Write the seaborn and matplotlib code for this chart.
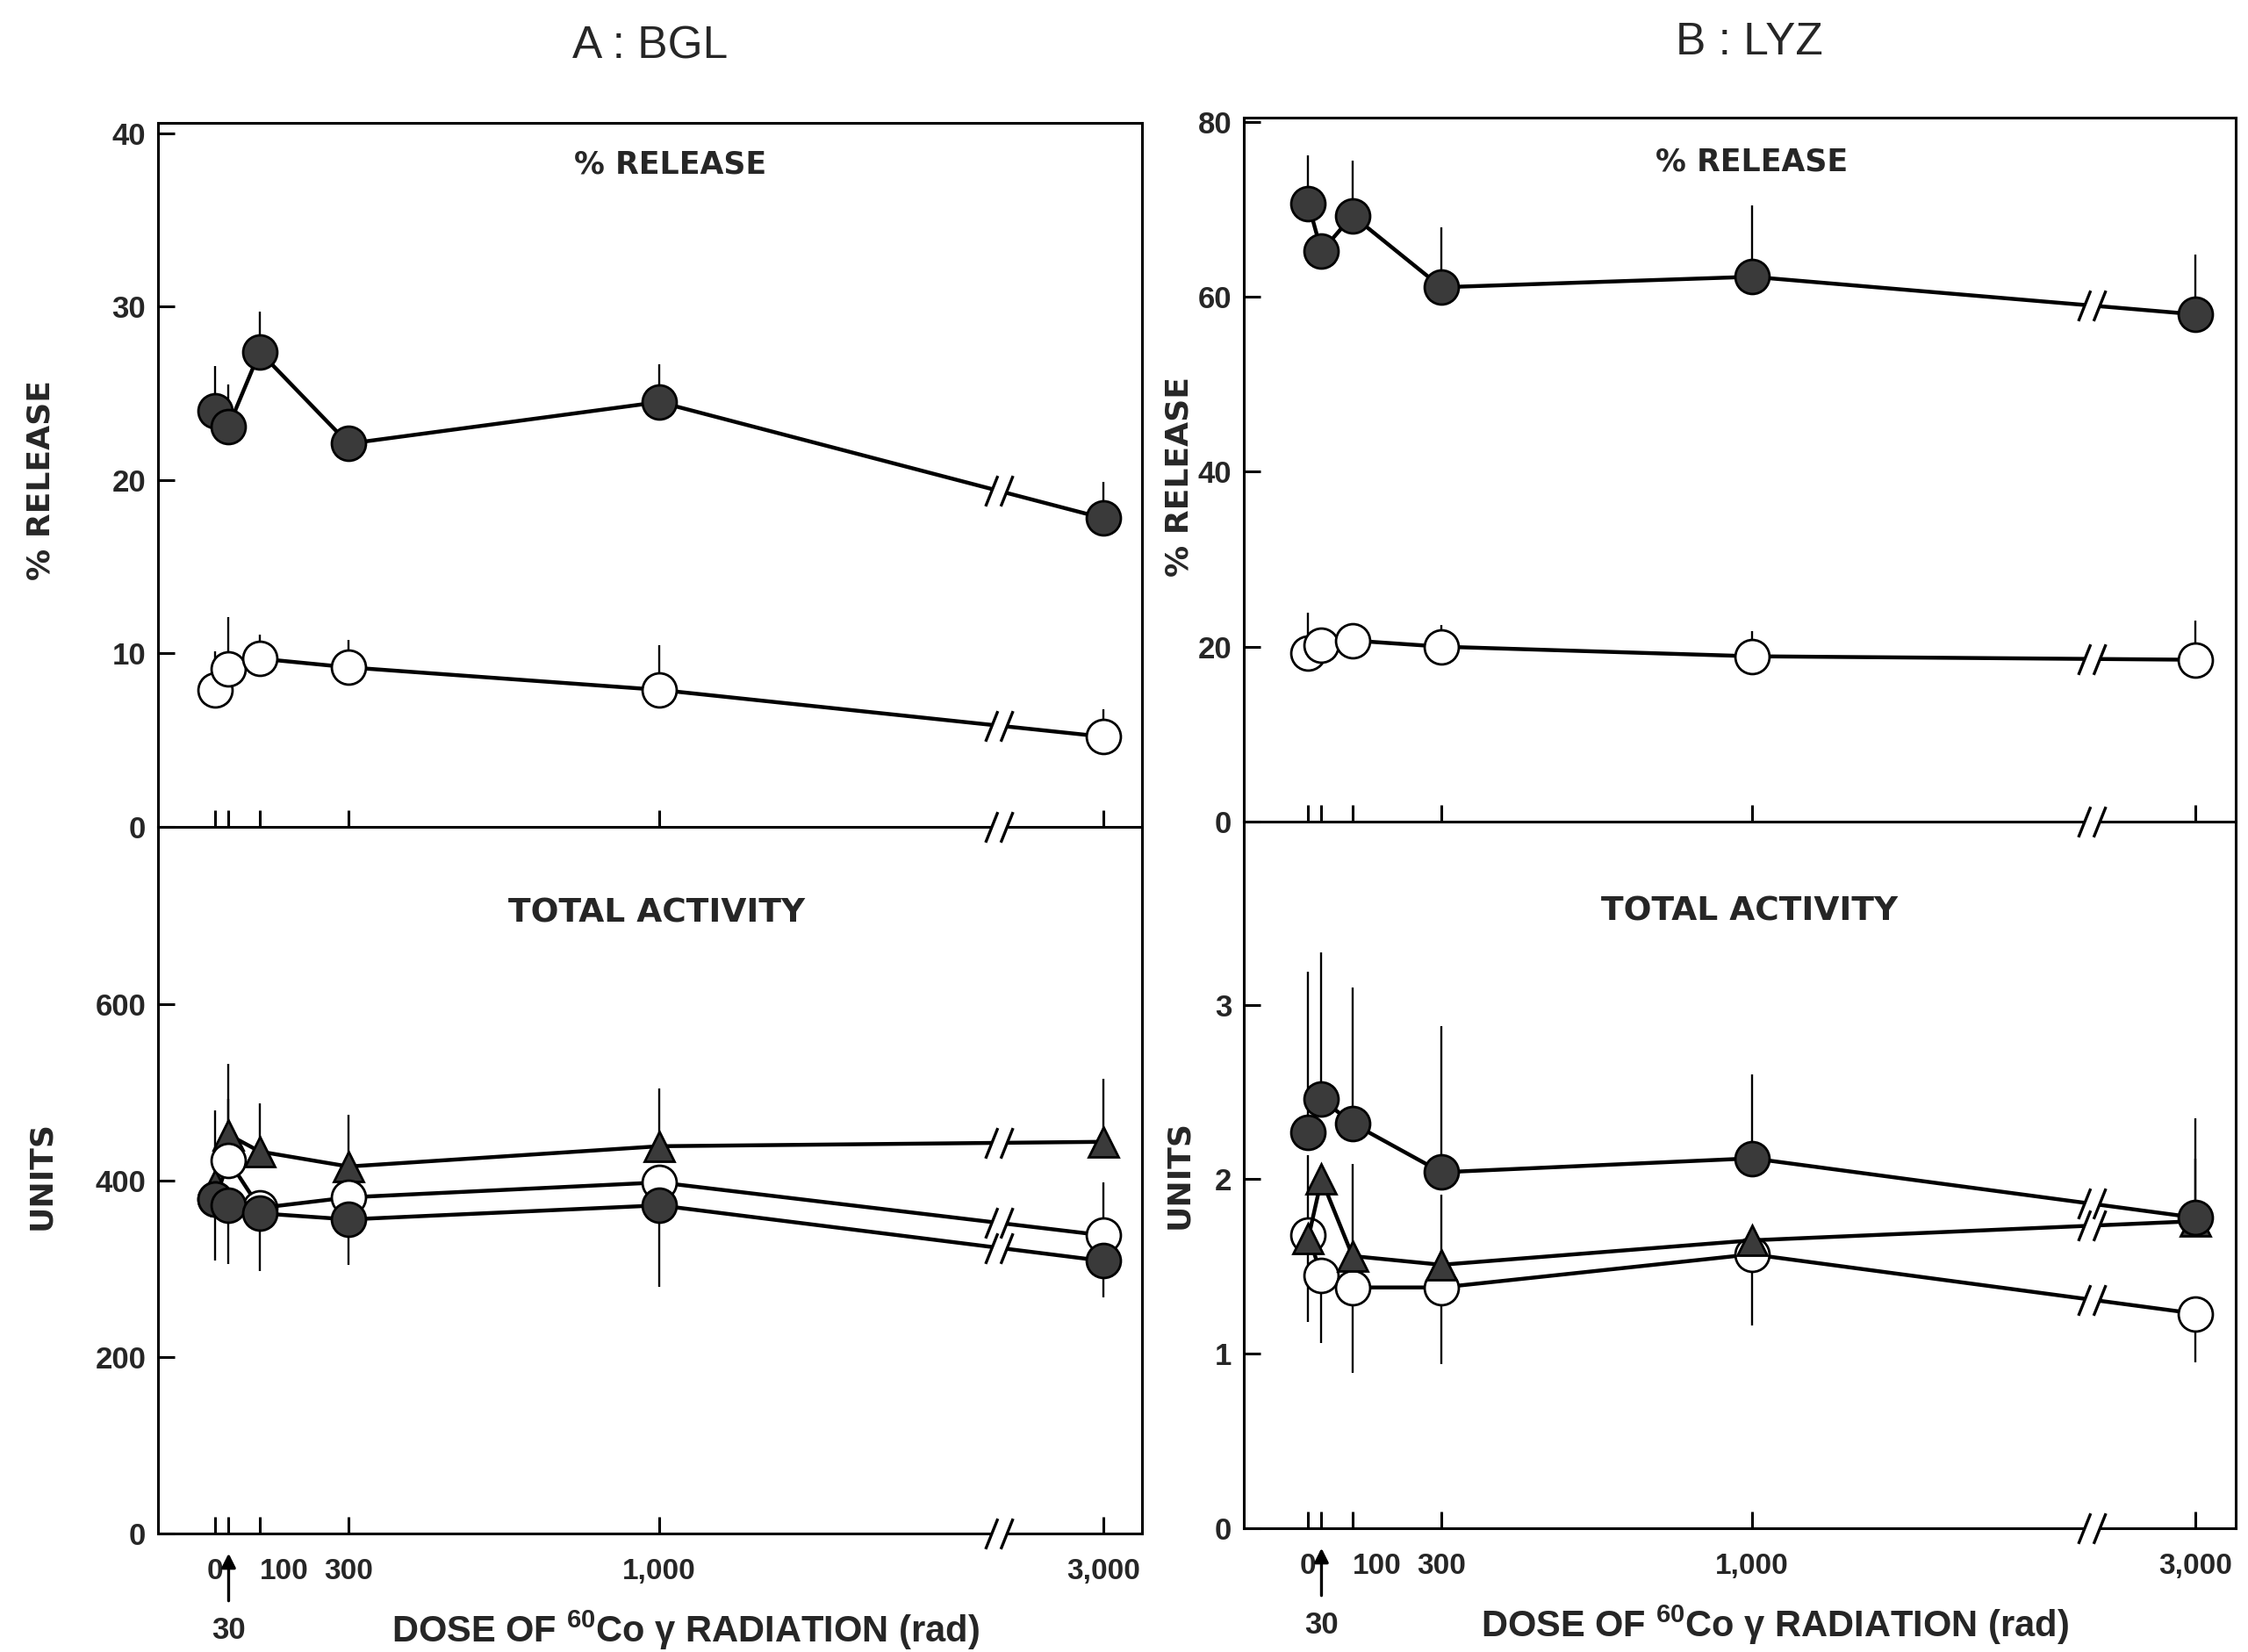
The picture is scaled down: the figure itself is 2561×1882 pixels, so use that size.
import numpy as np
import matplotlib
matplotlib.use("Agg")
import matplotlib.pyplot as plt
import seaborn as sns
from matplotlib.path import Path

# ---------------- data ----------------
doses = [0, 30, 100, 300, 1000, 3000]
dose_labels = ["0", "", "100", "300", "1,000", "3,000"]
arrow_dose = 30

# A : BGL  -- % release (errors drawn upward)
bgl_rel_filled = [24.0, 23.1, 27.4, 22.1, 24.5, 17.8]
bgl_rel_filled_up = [2.6, 2.4, 2.3, 1.0, 2.2, 2.1]
bgl_rel_open = [7.9, 9.1, 9.7, 9.2, 7.9, 5.2]
bgl_rel_open_up = [2.2, 3.0, 1.4, 1.6, 2.6, 1.6]

# A : BGL  -- total activity (units)
bgl_tot_tri = [395, 452, 433, 416, 439, 444]
bgl_tot_tri_up = [85, 80, 55, 59, 65, 71]
bgl_tot_open = [379, 423, 369, 381, 398, 338]
bgl_tot_open_up = [54, 70, 0, 0, 0, 60]
bgl_tot_filled = [379, 372, 363, 356, 372, 309]
bgl_tot_filled_dn = [70, 67, 65, 52, 92, 41]

# B : LYZ  -- % release
lyz_rel_filled = [70.7, 65.2, 69.3, 61.1, 62.3, 58.0]
lyz_rel_filled_up = [5.5, 0.0, 6.3, 6.9, 8.2, 6.8]
lyz_rel_open = [19.3, 20.2, 20.7, 20.0, 18.9, 18.5]
lyz_rel_open_up = [4.6, 0.0, 0.0, 2.5, 2.9, 4.5]

# B : LYZ  -- total activity (units)
lyz_tot_filled = [2.27, 2.46, 2.32, 2.04, 2.12, 1.78]
lyz_tot_filled_up = [0.92, 0.84, 0.78, 0.84, 0.48, 0.57]
lyz_tot_tri = [1.66, 2.00, 1.56, 1.51, 1.65, 1.76]
lyz_tot_tri_up = [0.48, 0.0, 0.53, 0.40, 0.0, 0.36]
lyz_tot_open = [1.68, 1.45, 1.38, 1.38, 1.57, 1.23]
lyz_tot_open_dn = [0.50, 0.39, 0.49, 0.44, 0.41, 0.28]

release_ticks_a = [0, 10, 20, 30, 40]
units_ticks_a = [0, 200, 400, 600]
release_ticks_b = [0, 20, 40, 60, 80]
units_ticks_b = [0, 1, 2, 3]

xlabel_text = r"DOSE OF $^{\mathbf{60}}$Co γ RADIATION (rad)"

# ---------------- style ----------------
sns.set_theme(style="white")
plt.rcParams["font.family"] = ["Liberation Sans", "DejaVu Sans"]
plt.rcParams["mathtext.fontset"] = "custom"
plt.rcParams["mathtext.rm"] = "Liberation Sans"
plt.rcParams["mathtext.bf"] = "Liberation Sans:bold"
plt.rcParams["axes.unicode_minus"] = False

FILL = "#3a3a3a"
LW = 3.2
MS_C = 28
MS_T = 25


def fwd(x):
    x = np.asarray(x, dtype=float)
    return np.where(x <= 1500, x, 1500 + (x - 1500) / 3.0)


def inv(t):
    t = np.asarray(t, dtype=float)
    return np.where(t <= 1500, t, 1500 + (t - 1500) * 3.0)


BREAK_T = 1765.0
M, L, C = Path.MOVETO, Path.LINETO, Path.CLOSEPOLY
slash_path = Path([(-0.9, -1), (-0.1, 1), (0.1, -1), (0.9, 1)], [M, L, M, L])
gap_path = Path([(-1, -1), (1, 1), (-0.62, -0.3), (0.38, -0.3), (0.62, 0.3),
                 (-0.38, 0.3), (-0.62, -0.3)], [M, M, M, L, L, L, C])


def break_mark(ax, x, y, transform=None, clip=True):
    kw = dict(ls="none", clip_on=clip)
    if transform is not None:
        kw["transform"] = transform
    ax.plot([x], [y], marker=gap_path, ms=25, mfc="white", mec="none", zorder=5, **kw)
    ax.plot([x], [y], marker=slash_path, ms=25, mfc="none", mec="black", mew=2.4,
            zorder=5.1, **kw)


def draw_series(ax, y, lo, hi, marker, face, ms):
    ax.errorbar(doses, y, yerr=[lo, hi], fmt="none", ecolor="black",
                elinewidth=1.7, capsize=0, zorder=1.5)
    sns.lineplot(x=doses, y=y, ax=ax, sort=False, color="black", linewidth=LW,
                 marker=marker, markersize=ms, markerfacecolor=face,
                 markeredgecolor="black", markeredgewidth=2.0, errorbar=None,
                 zorder=2)
    yb = float(np.interp(BREAK_T, fwd(doses), y))
    break_mark(ax, float(inv(BREAK_T)), yb)


def style_axis(ax, xl, yl, yticks, lower):
    ax.set_xscale("function", functions=(fwd, inv))
    ax.set_xlim(float(inv(xl[0])), float(inv(xl[1])))
    ax.set_ylim(*yl)
    ax.set_xticks(doses)
    ax.set_yticks(yticks)
    ax.set_yticklabels([str(t) for t in yticks], fontweight="bold")
    ax.patch.set_visible(False)
    for s in ax.spines.values():
        s.set_color("black")
        s.set_linewidth(2.2)
    if lower:
        ax.spines["top"].set_visible(False)
        labs = ax.set_xticklabels(dose_labels, fontweight="bold")
        labs[2].set_horizontalalignment("left")
    else:
        ax.set_xticklabels([""] * len(doses))
    ax.tick_params(axis="both", which="major", direction="in", length=14, width=2.2,
                   color="black", bottom=True, left=True, top=False, right=False)
    ax.tick_params(axis="x", labelsize=24, pad=20, labelbottom=lower)
    ax.tick_params(axis="y", labelsize=25, pad=10)
    ax.set_xlabel("")
    ax.set_ylabel("")
    break_mark(ax, float(inv(BREAK_T)), 0, transform=ax.get_xaxis_transform(), clip=False)


fig = plt.figure(figsize=(25.61, 18.82), dpi=100)
fig.patch.set_facecolor("white")

axA1 = fig.add_axes([0.0703, 0.4995, 0.4377, 0.4261])
axA2 = fig.add_axes([0.0703, 0.0717, 0.4377, 0.4278])
axB1 = fig.add_axes([0.5533, 0.5027, 0.4412, 0.4261])
axB2 = fig.add_axes([0.5533, 0.0749, 0.4412, 0.4278])

zeros = [0] * len(doses)

# A upper
draw_series(axA1, bgl_rel_open, zeros, bgl_rel_open_up, "o", "white", MS_C)
draw_series(axA1, bgl_rel_filled, zeros, bgl_rel_filled_up, "o", FILL, MS_C)
# A lower
draw_series(axA2, bgl_tot_tri, zeros, bgl_tot_tri_up, "^", FILL, MS_T)
draw_series(axA2, bgl_tot_open, zeros, bgl_tot_open_up, "o", "white", MS_C)
draw_series(axA2, bgl_tot_filled, bgl_tot_filled_dn, zeros, "o", FILL, MS_C)
# B upper
draw_series(axB1, lyz_rel_open, zeros, lyz_rel_open_up, "o", "white", MS_C)
draw_series(axB1, lyz_rel_filled, zeros, lyz_rel_filled_up, "o", FILL, MS_C)
# B lower
draw_series(axB2, lyz_tot_open, lyz_tot_open_dn, zeros, "o", "white", MS_C)
draw_series(axB2, lyz_tot_tri, zeros, lyz_tot_tri_up, "^", FILL, MS_T)
draw_series(axB2, lyz_tot_filled, zeros, lyz_tot_filled_up, "o", FILL, MS_C)

style_axis(axA1, (-129, 2087), (0, 40.6), release_ticks_a, False)
style_axis(axA2, (-129, 2087), (0, 801), units_ticks_a, True)
style_axis(axB1, (-145, 2090), (0, 80.5), release_ticks_b, False)
style_axis(axB2, (-145, 2090), (0, 4.05), units_ticks_b, True)

cap_kw = dict(ha="center", va="center", fontweight="bold", family=["DejaVu Sans"])
axA1.text(0.521, 0.941, "% RELEASE", transform=axA1.transAxes, fontsize=25, **cap_kw)
axB1.text(0.512, 0.937, "% RELEASE", transform=axB1.transAxes, fontsize=25, **cap_kw)
axA2.text(0.507, 0.878, "TOTAL ACTIVITY", transform=axA2.transAxes, fontsize=27, **cap_kw)
axB2.text(0.51, 0.872, "TOTAL ACTIVITY", transform=axB2.transAxes, fontsize=27, **cap_kw)

# y labels
for ax, lab, xc, yc in [(axA1, "% RELEASE", -0.119, 0.493), (axA2, "UNITS", -0.119, 0.507),
                        (axB1, "% RELEASE", -0.065, 0.49), (axB2, "UNITS", -0.065, 0.50)]:
    ax.set_ylabel(lab, fontsize=26, va="center", fontweight="bold", family=["DejaVu Sans"])
    ax.yaxis.set_label_coords(xc, yc)

# x labels and the "30" arrow
for ax, xc in [(axA2, 0.536), (axB2, 0.535)]:
    ax.set_xlabel(xlabel_text, fontsize=30, va="center", fontweight="bold")
    ax.xaxis.set_label_coords(xc, -0.137)
    ax.annotate("30", xy=(arrow_dose, -0.028), xycoords=("data", "axes fraction"),
                xytext=(arrow_dose, -0.137), textcoords=("data", "axes fraction"),
                ha="center", va="center", fontsize=25, fontweight="bold",
                arrowprops=dict(arrowstyle="-|>", color="black", lw=2.4,
                                shrinkA=10, shrinkB=0, mutation_scale=24))

# titles
fig.text(0.289, 0.972, "A : BGL", ha="center", va="center", fontsize=37)
fig.text(0.778, 0.974, "B : LYZ", ha="center", va="center", fontsize=37)

fig.savefig("out.png", dpi=100, facecolor="white")
